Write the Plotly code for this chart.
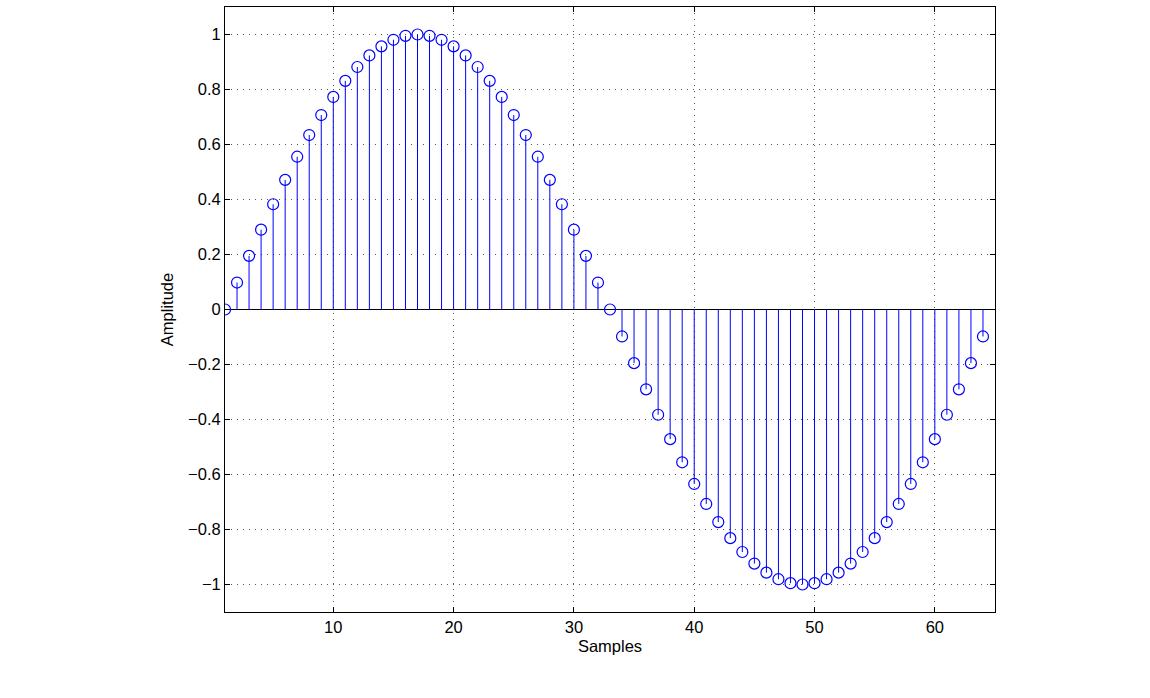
import plotly.graph_objects as go

samples = list(range(1, 65))
amplitude = [
    0.0, 0.0980, 0.1951, 0.2903, 0.3827, 0.4714, 0.5556, 0.6344,
    0.7071, 0.7730, 0.8315, 0.8819, 0.9239, 0.9569, 0.9808, 0.9952,
    1.0, 0.9952, 0.9808, 0.9569, 0.9239, 0.8819, 0.8315, 0.7730,
    0.7071, 0.6344, 0.5556, 0.4714, 0.3827, 0.2903, 0.1951, 0.0980,
    0.0, -0.0980, -0.1951, -0.2903, -0.3827, -0.4714, -0.5556, -0.6344,
    -0.7071, -0.7730, -0.8315, -0.8819, -0.9239, -0.9569, -0.9808, -0.9952,
    -1.0, -0.9952, -0.9808, -0.9569, -0.9239, -0.8819, -0.8315, -0.7730,
    -0.7071, -0.6344, -0.5556, -0.4714, -0.3827, -0.2903, -0.1951, -0.0980,
]
x_ticks = [10, 20, 30, 40, 50, 60]
y_ticks = [-1, -0.8, -0.6, -0.4, -0.2, 0, 0.2, 0.4, 0.6, 0.8, 1]

stem_x, stem_y = [], []
for s, a in zip(samples, amplitude):
    stem_x += [s, s, None]
    stem_y += [0, a, None]

FONT = "Liberation Sans, Arial, sans-serif"
FS = 16.5

fig = go.Figure()
fig.add_trace(go.Scatter(x=stem_x, y=stem_y, mode="lines",
                         line=dict(color="#0000ff", width=1), hoverinfo="skip"))
fig.add_trace(go.Scatter(x=samples, y=amplitude, mode="markers",
                         marker=dict(symbol="circle-open", size=11, color="#0000ff",
                                     line=dict(width=1.2, color="#0000ff"))))

axis_common = dict(showline=True, linecolor="black", linewidth=1, mirror="ticks",
                   ticks="inside", ticklen=5, tickcolor="black",
                   showgrid=True, gridcolor="#555555", gridwidth=1, griddash="1px,5px",
                   tickfont=dict(family=FONT, size=FS, color="black"))

fig.update_xaxes(range=[1, 65], tickvals=x_ticks, zeroline=False,
                 title=dict(text="Samples", standoff=5,
                            font=dict(family=FONT, size=FS, color="black")),
                 **axis_common)
fig.update_yaxes(range=[-1.1, 1.1], tickvals=y_ticks, zeroline=True, zerolinecolor="black",
                 zerolinewidth=1,
                 title=dict(text="Amplitude", standoff=10,
                            font=dict(family=FONT, size=FS, color="black")),
                 **axis_common)

fig.update_layout(width=1150, height=698, showlegend=False,
                  paper_bgcolor="white", plot_bgcolor="white",
                  margin=dict(l=225, r=155, t=7, b=86))

fig.write_html("out.html", config={"displayModeBar": False},
               post_script="document.body.style.margin='0';document.body.style.padding='0';")
